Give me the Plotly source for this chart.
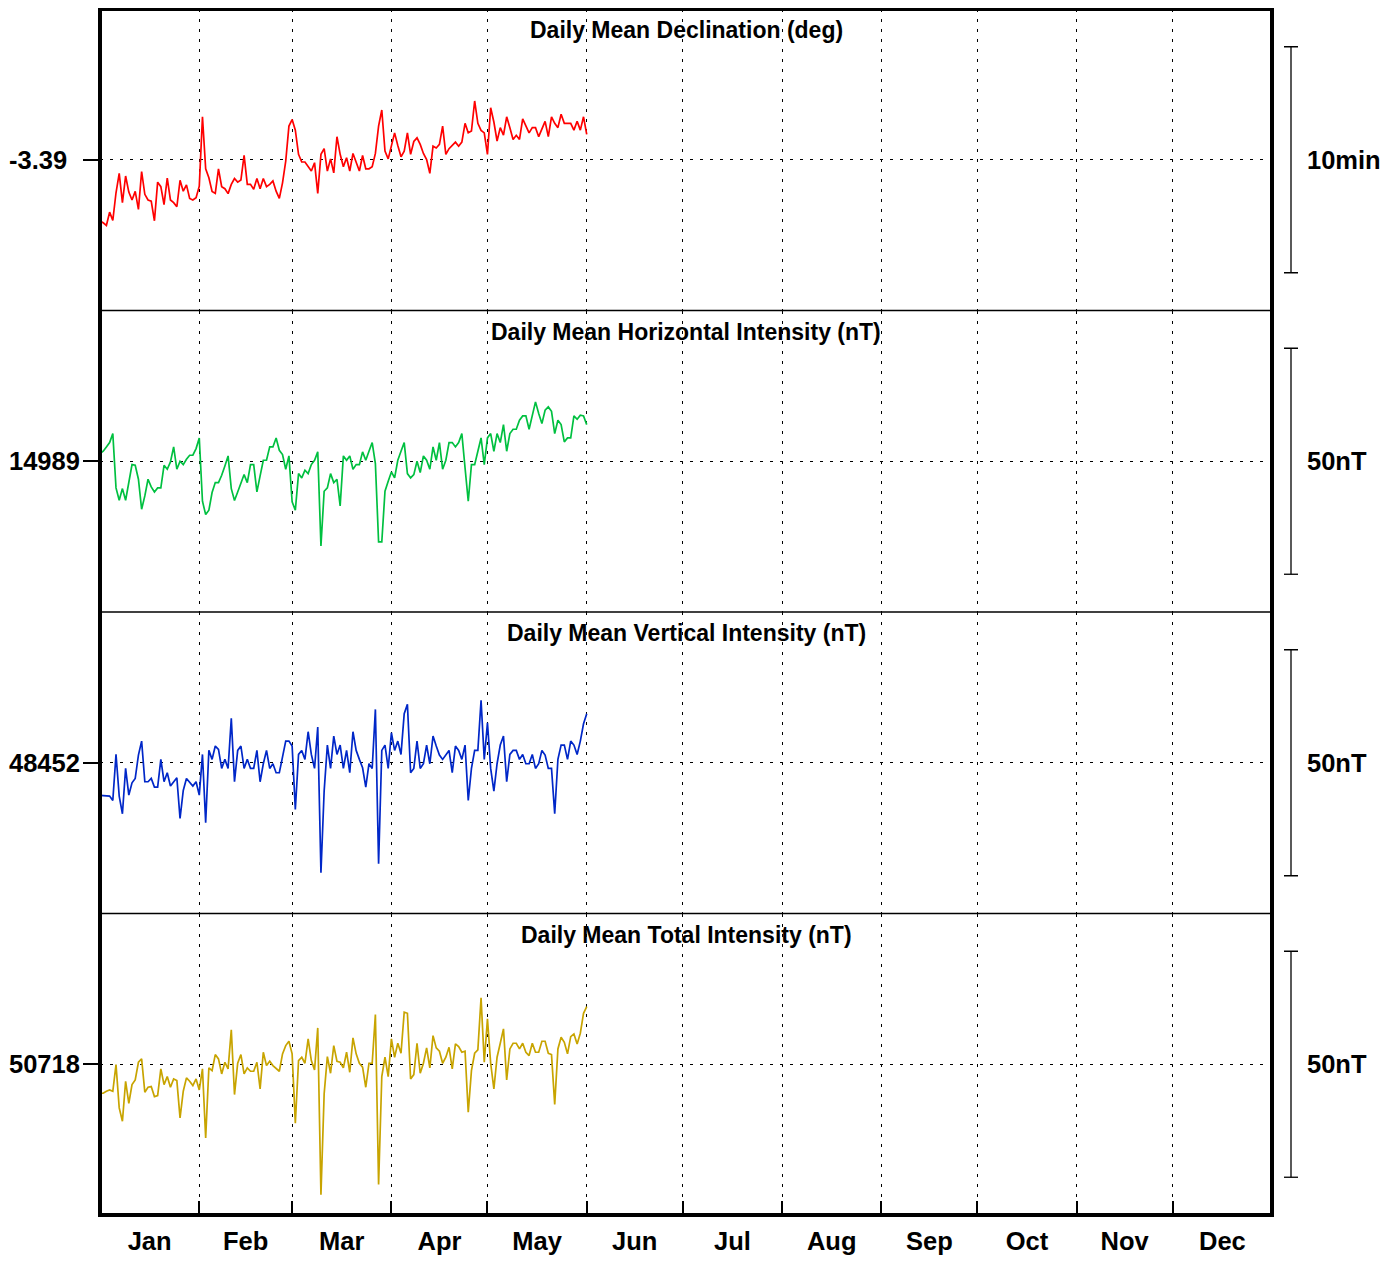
import pandas as pd
import plotly.graph_objects as go
from plotly.subplots import make_subplots

# ---------------- data ----------------
DATES = pd.date_range("2024-01-01", "2024-06-01", freq="D").strftime("%Y-%m-%d").tolist()

MONTHS = ["Jan", "Feb", "Mar", "Apr", "May", "Jun", "Jul", "Aug", "Sep", "Oct", "Nov", "Dec"]
MONTH_STARTS = ["2024-01-01", "2024-02-01", "2024-03-01", "2024-04-01", "2024-05-01", "2024-06-01",
                "2024-07-01", "2024-08-01", "2024-09-01", "2024-10-01", "2024-11-01", "2024-12-01",
                "2025-01-01"]

PANEL_TITLES = ["Daily Mean Declination (deg)", "Daily Mean Horizontal Intensity (nT)",
                "Daily Mean Vertical Intensity (nT)", "Daily Mean Total Intensity (nT)"]
CENTER_LABELS = ["-3.39", "14989", "48452", "50718"]
SCALE_LABELS = ["10min", "50nT", "50nT", "50nT"]

D_BASE_DEG = -3.39
D_OFFSET_ARCMIN = [
    -2.71, -2.79, -2.91, -2.32, -2.68, -1.46, -0.60, -1.90, -0.72, -1.43,
    -1.78, -1.40, -2.20, -0.52, -1.53, -1.78, -1.83, -2.70, -0.99, -1.19,
    -1.99, -0.81, -1.78, -1.90, -2.08, -0.91, -1.39, -1.11, -1.71, -1.78,
    -1.68, -1.17, 1.90, -0.40, -0.80, -1.40, -1.49, -0.40, -1.19, -1.28,
    -1.50, -1.09, -0.83, -0.99, -0.90, 0.19, -1.09, -1.09, -1.31, -0.83,
    -1.28, -0.83, -1.19, -1.09, -0.94, -1.39, -1.71, -1.02, -0.06, 1.49,
    1.78, 1.31, 0.24, -0.10, -0.10, -0.28, -0.50, -0.13, -1.49, 0.24,
    0.49, -0.50, 0.04, -0.58, 1.02, 0.24, -0.31, 0.09, -0.50, 0.28,
    -0.10, -0.50, 0.19, -0.40, -0.40, -0.31, 0.28, 1.49, 2.20, 0.38,
    0.04, 0.68, 1.19, 0.63, 0.13, 0.38, 1.19, 0.24, 0.81, 0.97,
    0.68, 0.28, 0.01, -0.60, 0.60, 0.52, 0.68, 1.49, 0.24, 0.49,
    0.63, 0.78, 0.60, 0.78, 1.61, 1.19, 1.27, 2.60, 1.61, 1.30,
    1.19, 0.24, 2.30, 1.67, 0.83, 1.42, 1.09, 1.90, 1.42, 0.90,
    1.08, 0.90, 1.81, 1.52, 1.19, 1.42, 1.42, 1.02, 1.34, 1.70,
    1.02, 1.90, 1.61, 1.42, 2.01, 1.61, 1.61, 1.61, 1.31, 1.70,
    1.31, 1.90, 1.12]

H_BASE_NT = 14989
H_OFFSET_NT = [
    1.70, 2.21, 3.17, 4.13, 6.12, -5.90, -8.63, -6.05, -8.63, -4.57,
    -0.74, -0.89, -3.98, -10.62, -7.67, -3.98, -5.68, -6.79, -5.90, -5.90,
    -0.89, -1.77, -0.15, 3.17, -1.77, 0.00, -0.74, 0.44, 1.33, 1.33,
    2.80, 5.16, -8.85, -11.80, -10.84, -6.93, -4.72, -4.72, -3.10, -1.03,
    1.18, -6.05, -8.70, -6.79, -4.94, -2.95, -4.72, -0.74, -0.74, -6.79,
    -3.25, 0.22, 0.22, 3.17, 3.17, 5.16, 2.43, 1.48, -1.77, 1.18,
    -9.00, -10.84, -2.73, -3.69, -1.99, -2.73, -0.74, 0.22, 2.07, -18.73,
    -6.64, -5.90, -2.73, -4.72, -3.98, -9.88, 1.18, 0.22, 1.18, -1.77,
    -0.74, -0.74, 2.07, 0.22, 2.21, 4.13, -0.52, -17.85, -17.85, -6.64,
    -4.43, -2.36, -3.69, 0.22, 2.21, 4.13, -2.73, -3.69, -2.95, 0.00,
    -2.51, 1.18, 0.22, -1.77, 3.17, 0.22, 4.13, -1.77, 0.22, 4.13,
    4.13, 3.17, 4.13, 6.12, -1.48, -8.85, -0.74, -0.74, 2.21, 5.16,
    -0.74, 5.16, 6.12, 2.21, 6.12, 4.13, 8.11, 2.21, 6.12, 7.08,
    7.08, 9.07, 10.03, 10.03, 7.08, 10.03, 13.13, 10.55, 8.33, 11.28,
    12.02, 11.06, 6.12, 9.07, 8.11, 4.28, 5.16, 5.16, 10.03, 9.29,
    10.18, 10.03, 8.11]

Z_BASE_NT = 48452
Z_OFFSET_NT = [
    -7.23, -7.23, -7.23, -7.38, -8.33, 1.84, -7.38, -11.28, -1.25, -7.15,
    -4.43, -3.47, 1.70, 4.79, -4.20, -4.20, -3.47, -5.38, -5.38, 0.74,
    -4.20, -2.21, -5.16, -4.20, -3.32, -12.32, -6.12, -3.47, -4.20, -5.16,
    -4.20, -7.15, 1.84, -13.28, 2.73, 0.74, 3.69, 2.95, -1.25, 0.74,
    -1.25, 9.81, -4.20, 2.73, 3.69, -1.25, 0.74, -1.25, -1.25, 2.73,
    -4.20, -0.22, 2.73, -1.25, -0.22, -2.21, -2.21, 1.70, 4.79, 4.79,
    3.69, -10.33, 1.84, 2.73, 0.74, 6.86, 1.84, -1.25, 7.89, -24.34,
    -6.27, 3.91, -1.25, 5.90, 1.84, 3.91, -1.25, 2.73, -2.21, 6.86,
    2.73, 0.74, -1.11, -5.38, -0.22, -1.25, 11.80, -22.35, 2.73, 3.91,
    -1.25, 6.64, 2.73, 4.79, 1.84, 10.84, 12.91, -2.21, -1.25, 4.79,
    -1.25, -0.22, 3.91, -0.22, 5.90, 3.69, 1.70, 0.74, 1.70, 2.73,
    -2.21, 3.69, 2.73, 0.74, 3.91, -8.33, -1.25, 2.73, 2.73, 13.79,
    0.74, 8.85, -1.25, -6.27, -0.22, 3.91, 5.90, -4.20, 1.84, 2.73,
    2.73, 0.74, 1.84, -0.22, -0.22, 1.84, -1.25, -0.22, 2.73, 1.70,
    -1.25, -1.25, -11.28, 0.74, 3.91, 3.91, 0.74, 4.79, 3.91, 1.84,
    4.79, 8.63, 10.84]

F_BASE_NT = 50718
F_OFFSET_NT = [
    -6.42, -6.42, -5.97, -5.68, -5.97, -0.07, -9.66, -12.61, -3.76, -8.63,
    -4.50, -3.47, 0.44, 1.18, -6.20, -5.09, -4.94, -7.15, -6.93, -1.03,
    -4.50, -2.73, -5.09, -3.25, -3.61, -11.87, -5.97, -3.02, -3.76, -4.72,
    -3.25, -5.68, -1.03, -16.30, -0.81, -1.40, 2.14, 1.18, -2.14, 0.44,
    -1.03, 7.60, -6.71, 0.22, 2.14, -2.14, -0.81, -1.55, -1.55, 0.44,
    -5.46, 2.66, -0.30, 0.66, -0.30, -1.03, -1.55, 2.29, 4.13, 5.09,
    2.29, -13.05, 0.81, 1.55, 0.22, 5.61, 0.81, -1.25, 8.04, -28.84,
    -6.56, 1.70, -1.99, 4.13, 0.66, 0.44, -0.81, 2.66, -1.77, 5.83,
    2.29, 0.22, -0.66, -5.09, 0.22, 0.22, 10.99, -26.62, -2.73, 1.55,
    -2.73, 5.61, 1.55, 4.65, 2.43, 11.51, 11.28, -3.25, -2.29, 4.65,
    -1.99, 0.22, 3.61, -0.81, 6.34, 3.61, 2.88, 0.22, 1.55, 3.76,
    -1.03, 4.50, 3.91, 2.66, 2.88, -10.62, -1.40, 2.43, 3.17, 14.68,
    0.44, 10.03, 0.22, -5.46, 1.55, 4.65, 7.82, -3.47, 3.39, 4.65,
    4.65, 3.39, 4.65, 2.66, 1.92, 4.65, 2.66, 2.66, 5.09, 5.09,
    2.43, 2.14, -8.92, 3.39, 5.97, 4.87, 2.29, 6.12, 6.71, 4.50,
    6.86, 11.28, 12.76]

# ---------------- derived series ----------------
D_VALUES = [D_BASE_DEG + v / 60.0 for v in D_OFFSET_ARCMIN]
H_VALUES = [H_BASE_NT + v for v in H_OFFSET_NT]
Z_VALUES = [Z_BASE_NT + v for v in Z_OFFSET_NT]
F_VALUES = [F_BASE_NT + v for v in F_OFFSET_NT]

SERIES = [D_VALUES, H_VALUES, Z_VALUES, F_VALUES]
BASES = [D_BASE_DEG, H_BASE_NT, Z_BASE_NT, F_BASE_NT]
COLORS = ["#ff0000", "#00c040", "#0027c8", "#c8a400"]

# page layout (browser body adds an 8 px margin around the figure)
PAGE_OFF = 8
W, H_FIG = 1378, 1253
ML, MR, MT, MB = 92, 114, 1, 46
PW = W - ML - MR
PH = H_FIG - MT - MB
PANEL_PX = PH / 4.0
BAR_PX = 226.0
HALF_RANGE = [PANEL_PX / 2 / BAR_PX * 10 / 60.0] + [PANEL_PX / 2 / BAR_PX * 50] * 3
HALF_BAR = [5 / 60.0, 25.0, 25.0, 25.0]

ms = pd.to_datetime(MONTH_STARTS)
MID_MONTHS = [(ms[i] + (ms[i + 1] - ms[i]) / 2).strftime("%Y-%m-%d %H:%M") for i in range(12)]

FONT = "Liberation Sans, Arial, sans-serif"
LABEL_SIZE = 25.5
TITLE_SIZE = 23


def px_to_paper_x(page_px):
    return (page_px - PAGE_OFF - ML) / PW


fig = make_subplots(rows=4, cols=1, shared_xaxes=True, vertical_spacing=0)

DOT = "3px,7px"

for r in range(4):
    row = r + 1
    fig.add_trace(go.Scatter(x=DATES, y=SERIES[r], mode="lines",
                             line=dict(color=COLORS[r], width=1.7),
                             showlegend=False, hoverinfo="skip"), row=row, col=1)
    base = BASES[r]
    fig.update_yaxes(range=[base - HALF_RANGE[r], base + HALF_RANGE[r]],
                     tickvals=[base], showticklabels=False, automargin=False,
                     ticks="outside", ticklen=16, tickwidth=2, tickcolor="black",
                     showgrid=True, gridcolor="black", gridwidth=1.3, griddash=DOT,
                     zeroline=False, showline=False, fixedrange=True,
                     row=row, col=1)
    bottom = row == 4
    fig.update_xaxes(type="date", range=["2024-01-01", "2025-01-01"],
                     tickvals=MID_MONTHS, ticktext=MONTHS, automargin=False,
                     showticklabels=bottom, ticks="", showgrid=False,
                     zeroline=False, showline=False,
                     tickfont=dict(family=FONT, size=LABEL_SIZE, color="black", weight="bold"),
                     ticklabelstandoff=8,
                     minor=dict(tickvals=MONTH_STARTS[1:-1], showgrid=True,
                                gridcolor="black", gridwidth=1.3, griddash=DOT,
                                ticks="inside" if bottom else "", ticklen=14,
                                tickwidth=1.5, tickcolor="black"),
                     row=row, col=1)

    yref = "y" if row == 1 else f"y{row}"
    # left value label
    fig.add_annotation(x=px_to_paper_x(7), xref="paper", y=base, yref=yref,
                       text=CENTER_LABELS[r], showarrow=False,
                       xanchor="left", yanchor="middle",
                       font=dict(family=FONT, size=LABEL_SIZE, color="black", weight="bold"))
    # right scale label
    fig.add_annotation(x=px_to_paper_x(1305), xref="paper", y=base, yref=yref,
                       text=SCALE_LABELS[r], showarrow=False,
                       xanchor="left", yanchor="middle",
                       font=dict(family=FONT, size=LABEL_SIZE, color="black", weight="bold"))
    # panel title
    fig.add_annotation(x=0.5, xref="paper", y=1, yref=f"{yref} domain",
                       text=PANEL_TITLES[r], showarrow=False,
                       xanchor="center", yanchor="top", yshift=-6,
                       font=dict(family=FONT, size=TITLE_SIZE, color="black", weight="bold"))
    # scale bar
    xb = px_to_paper_x(1291)
    xc0, xc1 = px_to_paper_x(1284), px_to_paper_x(1298)
    lo, hi = base - HALF_BAR[r], base + HALF_BAR[r]
    line = dict(color="black", width=1.3)
    fig.add_shape(type="line", xref="paper", yref=yref, x0=xb, x1=xb, y0=lo, y1=hi, line=line)
    fig.add_shape(type="line", xref="paper", yref=yref, x0=xc0, x1=xc1, y0=lo, y1=lo, line=line)
    fig.add_shape(type="line", xref="paper", yref=yref, x0=xc0, x1=xc1, y0=hi, y1=hi, line=line)

# panel separators and outer frame
for yy in [0.25, 0.5, 0.75]:
    fig.add_shape(type="line", xref="paper", yref="paper", x0=0, x1=1, y0=yy, y1=yy,
                  line=dict(color="black", width=1.5))
fig.add_shape(type="rect", xref="paper", yref="paper", x0=0, x1=1, y0=0, y1=1,
              line=dict(color="black", width=4))

fig.update_layout(width=W, height=H_FIG,
                  margin=dict(l=ML, r=MR, t=MT, b=MB, pad=0, autoexpand=False),
                  paper_bgcolor="white", plot_bgcolor="white",
                  font=dict(family=FONT, color="black"),
                  showlegend=False)

fig.write_html("out.html")
